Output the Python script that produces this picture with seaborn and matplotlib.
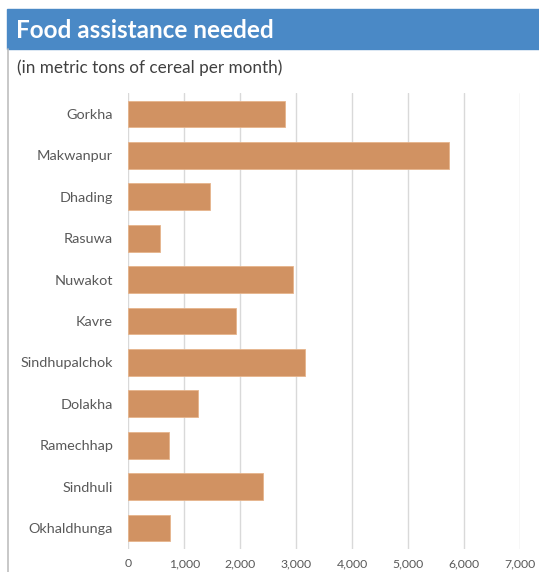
import matplotlib
matplotlib.use("Agg")
import matplotlib.pyplot as plt
import seaborn as sns
import pandas as pd
from matplotlib.patches import Rectangle
from matplotlib.lines import Line2D

# =========================
# DATA
# =========================

districts = ["Gorkha", "Makwanpur", "Dhading", "Rasuwa", "Nuwakot", "Kavre",
             "Sindhupalchok", "Dolakha", "Ramechhap", "Sindhuli", "Okhaldhunga"]
tons = [2800, 5720, 1465, 560, 2940, 1930, 3155, 1250, 730, 2410, 750]
xticks = [0, 1000, 2000, 3000, 4000, 5000, 6000, 7000]
xtick_labels = ["0", "1,000", "2,000", "3,000", "4,000", "5,000", "6,000", "7,000"]

df = pd.DataFrame({"district": districts, "tons": tons})

# =========================
# PLOT
# =========================

sns.set_style("white")
plt.rcParams["font.family"] = ["Lato", "DejaVu Sans"]

W, H = 539, 572
fig = plt.figure(figsize=(W / 100, H / 100), dpi=100)
ax = fig.add_axes([128.3 / W, 1 - 548.7 / H, 392 / W, 455.4 / H])

sns.barplot(data=df, x="tons", y="district", color="#d19262", saturation=1,
            width=0.645, edgecolor="#e6b48c", linewidth=0.6, ax=ax)

ax.set_xlim(0, 7000)
ax.set_xticks(xticks)
ax.set_xticklabels(xtick_labels)
ax.grid(axis="x", color="#d9d9d9", linewidth=1)
ax.set_axisbelow(True)
for s in ax.spines.values():
    s.set_visible(False)
ax.tick_params(axis="both", length=0, colors="#595959", labelsize=10.4)
ax.tick_params(axis="y", pad=11)
ax.tick_params(axis="x", pad=7, labelsize=8.8)
ax.set_xlabel("")
ax.set_ylabel("")

# header bar
fig.patches.append(Rectangle((7 / W, 1 - 49 / H), 1 - 7 / W, 40 / H,
                             transform=fig.transFigure, color="#4a89c6", zorder=0))
fig.text(16 / W, 1 - 31 / H, "Food assistance needed", color="white",
         fontsize=17.5, fontweight="bold", va="center", ha="left")
fig.text(17 / W, 1 - 68 / H, "(in metric tons of cereal per month)", color="#404040",
         fontsize=12.3, va="center", ha="left")
fig.lines.append(Line2D([7.5 / W, 7.5 / W], [0, 1 - 49 / H], transform=fig.transFigure,
                        color="#bfbfbf", linewidth=1.2))

plt.savefig("out.png", dpi=100)
